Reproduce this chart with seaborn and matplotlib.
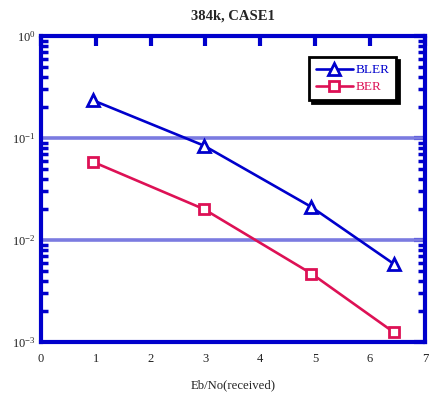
import math
import matplotlib
matplotlib.use("Agg")
import matplotlib.pyplot as plt
import matplotlib.ticker as mticker
import seaborn as sns
import pandas as pd

# Measured link performance
ebno = [0.95, 2.97, 4.93, 6.43]
bler = [0.234, 0.0843, 0.0211, 0.00585]
ber = [0.0583, 0.0201, 0.00469, 0.00125]
series_names = ["BLER", "BER"]
title = "384k, CASE1"
xlabel = "Eb/No(received)"

sns.set_theme(style="white")
plt.rcParams["font.family"] = ["Liberation Serif", "DejaVu Serif"]
plt.rcParams["mathtext.fontset"] = "custom"
plt.rcParams["mathtext.rm"] = "Liberation Serif"
plt.rcParams["mathtext.it"] = "Liberation Serif:italic"

blue = "#0000CC"
red = "#DD1155"
grid_blue = "#7B7BE0"

fig = plt.figure(figsize=(4.30, 3.98), dpi=100)
ax = fig.add_axes([0.0953, 0.1407, 0.8927, 0.7688])

df = pd.DataFrame({"x": ebno * 2, "y": bler + ber,
                   "series": [series_names[0]] * 4 + [series_names[1]] * 4})

ax.set_yscale("log")
for y in [1e-1, 1e-2]:
    ax.axhline(y, color=grid_blue, lw=2.6, zorder=1)

sub = df[df.series == "BLER"]
sns.lineplot(data=sub, x="x", y="y", ax=ax, color=blue, lw=1.9, marker="^",
             markersize=8, markerfacecolor="white", markeredgecolor=blue,
             markeredgewidth=2, label="BLER", zorder=3)
sub = df[df.series == "BER"]
sns.lineplot(data=sub, x="x", y="y", ax=ax, color=red, lw=1.9, marker="s",
             markersize=7.5, markerfacecolor="white", markeredgecolor=red,
             markeredgewidth=2, label="BER", zorder=3)

ax.set_xlim(0, 7)
ax.set_ylim(1e-3, 1)
ax.set_xticks(range(0, 8))
ax.xaxis.set_major_formatter(mticker.FormatStrFormatter("%d"))
ax.yaxis.set_major_locator(mticker.LogLocator(base=10, numticks=10))
ax.yaxis.set_minor_locator(mticker.LogLocator(base=10, subs=range(2, 10), numticks=20))
ax.yaxis.set_minor_formatter(mticker.NullFormatter())
ax.yaxis.set_major_formatter(mticker.FuncFormatter(
    lambda v, p: r"$\mathregular{10^{%d}}$" % round(math.log10(v))))

for s in ax.spines.values():
    s.set_color(blue)
    s.set_linewidth(3)
ax.tick_params(axis="both", which="major", direction="in", color=blue,
               width=3, length=7, labelsize=9, labelcolor="#222222",
               top=True, right=True, pad=8)
ax.tick_params(axis="y", which="minor", direction="in", color=blue,
               width=2.5, length=5, left=True, right=True)
ax.tick_params(axis="y", which="major", length=8, pad=4)

ax.set_title(title, fontsize=10.5, fontweight="bold", pad=12)
ax.set_xlabel(xlabel, fontsize=9.2, labelpad=10)
ax.set_ylabel("")

leg = ax.legend(loc="upper right", bbox_to_anchor=(0.925, 0.93), fontsize=9.5,
                frameon=True, fancybox=False,
                shadow={"color": "black", "alpha": 1},
                handlelength=2.8, borderpad=0.5, labelspacing=0.35,
                handletextpad=0.2, borderaxespad=0)
leg.get_frame().set_edgecolor("black")
leg.get_frame().set_linewidth(2)
for t, c in zip(leg.get_texts(), [blue, red]):
    t.set_color(c)

fig.savefig("out.png", dpi=100)
